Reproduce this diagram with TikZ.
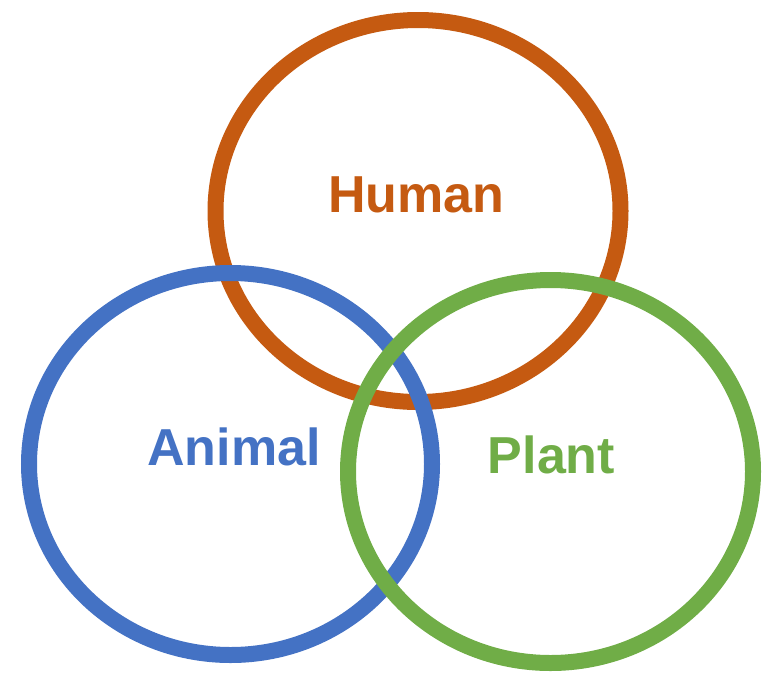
\documentclass[tikz,border=0pt]{standalone}
\usepackage{fontspec}
\setmainfont{Liberation Sans}
\usetikzlibrary{shapes.geometric}
\definecolor{humanc}{HTML}{C55A11}
\definecolor{animalc}{HTML}{4472C4}
\definecolor{plantc}{HTML}{70AD47}
\tikzset{
  ring/.style={ellipse, draw, line width=16pt, inner sep=0pt, outer sep=0pt},
  lbl/.style={anchor=base, font=\fontsize{52pt}{60pt}\selectfont\bfseries, inner sep=0pt}
}
\begin{document}
\begin{tikzpicture}[x=1pt,y=-1pt]
\useasboundingbox (0,0) rectangle (762,675);
\node[ring, draw=humanc, minimum width=405pt, minimum height=382pt] (human) at (418,211) {};
\node[ring, draw=animalc, minimum width=403pt, minimum height=382pt] (animal) at (230.5,464) {};
\node[ring, draw=plantc, minimum width=405pt, minimum height=383pt] (plant) at (550.5,471.5) {};
\node[lbl, text=humanc] (humant) at (416.5,212) {Human};
\node[lbl, text=animalc] (animalt) at (234,465) {Animal};
\node[lbl, text=plantc] (plantt) at (551.5,473) {Plant};
\end{tikzpicture}
\end{document}
